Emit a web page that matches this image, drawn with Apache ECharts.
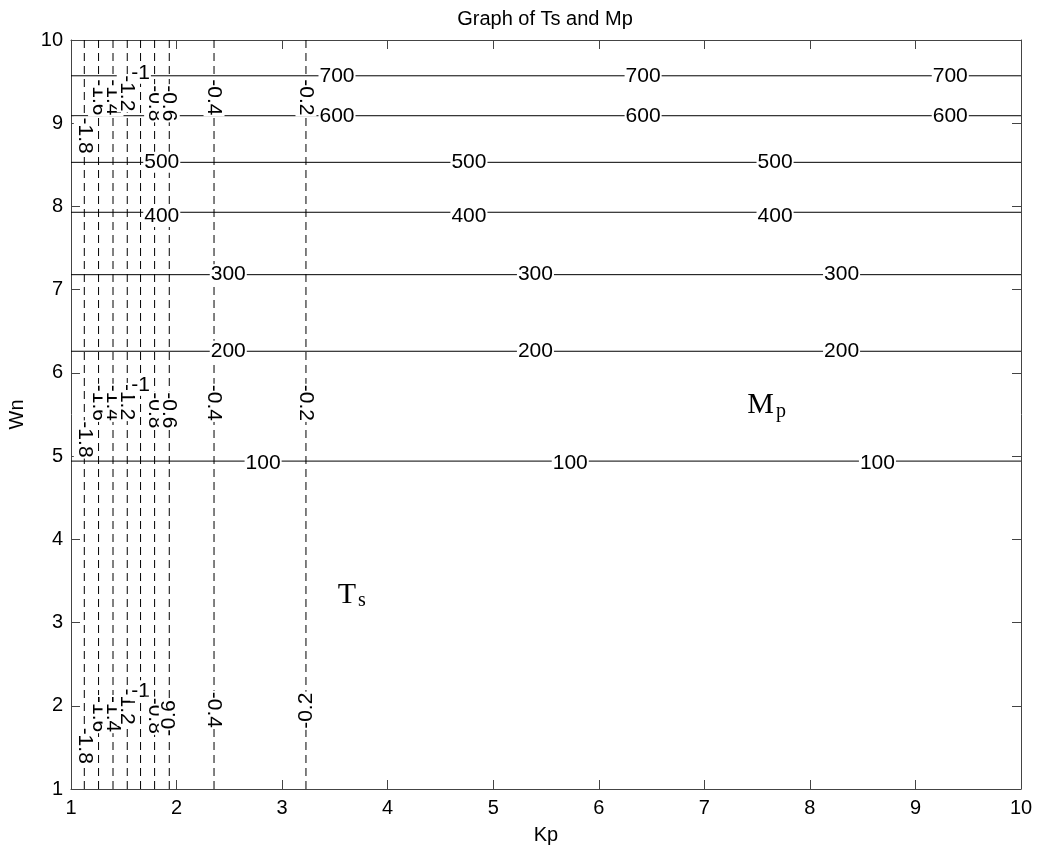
<!DOCTYPE html>
<html>
<head>
<meta charset="utf-8">
<script src="https://cdn.jsdelivr.net/npm/echarts@6/dist/echarts.min.js"></script>
<style>
html,body{margin:0;padding:0;background:#fff;}
#chart{width:1039px;height:852px;}
</style>
</head>
<body>
<div id="chart"></div>
<script>
// ---- data ----
const titleText = 'Graph of Ts and Mp';
const xName = 'Kp';
const yName = 'Wn';
const axisTicks = [1, 2, 3, 4, 5, 6, 7, 8, 9, 10];

// Ts contours (vertical dashed lines): level and Kp position
const tsLevels = ['-1.8', '-1.6', '-1.4', '-1.2', '-1', '-0.8', '-0.6', '-0.4', '-0.2'];
const tsKp = [1.126, 1.261, 1.398, 1.533, 1.659, 1.792, 1.931, 2.355, 3.226];
// Wn positions of Ts contour labels (three groups: top, middle, bottom)
const tsLabelWnTop = [8.85, 9.31, 9.31, 9.36, 9.60, 9.24, 9.24, 9.31, 9.31];
const tsLabelWnMid = [5.20, 5.64, 5.64, 5.65, 5.85, 5.55, 5.55, 5.64, 5.64];
const tsLabelWnBot = [1.52, 1.90, 1.90, 1.99, 2.18, 1.88, 1.85, 1.95, 1.94];

// Mp contours (horizontal solid lines): level and Wn position
const mpLevels = ['100', '200', '300', '400', '500', '600', '700'];
const mpWn = [4.94, 6.26, 7.18, 7.93, 8.53, 9.09, 9.57];
// Kp positions of Mp contour labels
const mpLabelKp = [
  [2.82, 5.73, 8.64],
  [2.49, 5.40, 8.30],
  [2.49, 5.40, 8.30],
  [1.86, 4.77, 7.67],
  [1.86, 4.77, 7.67],
  [3.52, 6.42, 9.33],
  [3.52, 6.42, 9.33]
];
// offsets of labels below their lines (Wn units) for 100 and 400 rows
const mpLabelWnShift = [-0.03, 0, 0, -0.05, 0, 0, 0];

// region annotations
const annMain = ['T', 'M'];
const annSub = ['s', 'p'];
const annKp = [3.66, 7.59];
const annWn = [3.33, 5.61];

// ---- build ----
const series = [];
tsLevels.forEach((lv, i) => {
  series.push({
    type: 'line', name: 'Ts ' + lv, xAxisIndex: 0, yAxisIndex: 0,
    data: [[tsKp[i], 1], [tsKp[i], 10]],
    symbol: 'none', silent: true,
    lineStyle: { color: '#000', width: 1, type: [8, 5] }
  });
});
mpLevels.forEach((lv, i) => {
  series.push({
    type: 'line', name: 'Mp ' + lv, xAxisIndex: 0, yAxisIndex: 0,
    data: [[1, mpWn[i]], [10, mpWn[i]]],
    symbol: 'none', silent: true,
    lineStyle: { color: '#000', width: 1, type: 'solid' }
  });
});

const labelData = [];
[tsLabelWnTop, tsLabelWnMid, tsLabelWnBot].forEach((grp, g) => {
  grp.forEach((wn, i) => {
    let rot = -90;
    if (tsLevels[i] === '-1') rot = 0;
    if (g === 2 && (tsLevels[i] === '-0.6' || tsLevels[i] === '-0.2')) rot = 90;
    labelData.push({ name: tsLevels[i], value: [tsKp[i], wn], label: { rotate: rot } });
  });
});
mpLevels.forEach((lv, i) => {
  mpLabelKp[i].forEach(kp => {
    labelData.push({ name: lv, value: [kp, mpWn[i] + mpLabelWnShift[i]], label: { rotate: 0 } });
  });
});

series.push({
  type: 'scatter', name: 'contour labels', xAxisIndex: 0, yAxisIndex: 0,
  symbolSize: 0, silent: true, z: 5,
  itemStyle: { opacity: 1 },
  data: labelData,
  label: {
    show: true, position: 'inside', formatter: '{b}',
    color: '#000', fontSize: 21, fontFamily: 'Liberation Sans, Arial, sans-serif',
    backgroundColor: '#fff', padding: [0, 1]
  }
});

series.push({
  type: 'scatter', name: 'annotations', xAxisIndex: 0, yAxisIndex: 0,
  symbolSize: 0, silent: true, z: 6,
  itemStyle: { opacity: 1 },
  data: annMain.map((m, i) => ({ name: m, value: [annKp[i], annWn[i]], sub: annSub[i] })),
  label: {
    show: true, position: 'inside',
    formatter: p => '{a|' + p.name + '}{b|' + p.data.sub + '}',
    rich: {
      a: { fontFamily: 'Liberation Serif, Times New Roman, serif', fontSize: 30, color: '#000', lineHeight: 30 },
      b: { fontFamily: 'Liberation Serif, Times New Roman, serif', fontSize: 20, color: '#000', padding: [12, 0, 0, 2] }
    }
  }
});

const axisFont = { color: '#000', fontSize: 20, fontFamily: 'Liberation Sans, Arial, sans-serif' };
const lineCol = '#444';
function mkAxis(pos, showLabels, name, extra) {
  return Object.assign({
    type: 'value', position: pos, min: axisTicks[0], max: axisTicks[axisTicks.length - 1], interval: 1,
    axisLine: { show: true, onZero: false, lineStyle: { color: lineCol, width: 1 } },
    axisTick: { show: true, inside: true, length: 9, lineStyle: { color: lineCol, width: 1 } },
    axisLabel: Object.assign({ show: showLabels }, axisFont),
    splitLine: { show: false },
    name: name,
    nameTextStyle: axisFont
  }, extra || {});
}

const option = {
  animation: false,
  backgroundColor: '#fff',
  title: {
    text: titleText, left: 540, top: 4, textAlign: 'center',
    textStyle: { color: '#000', fontSize: 20, fontWeight: 'normal', fontFamily: 'Liberation Sans, Arial, sans-serif' }
  },
  grid: { left: 71, right: 18, top: 40, bottom: 63, containLabel: false, outerBoundsMode: 'none' },
  xAxis: [
    mkAxis('bottom', true, xName, { nameLocation: 'middle', nameGap: 36, axisLabel: Object.assign({ show: true, margin: 9 }, axisFont) }),
    mkAxis('top', false, '', {})
  ],
  yAxis: [
    mkAxis('left', true, yName, { nameLocation: 'middle', nameGap: 44, nameRotate: 90, axisLabel: Object.assign({ show: true, margin: 8 }, axisFont) }),
    mkAxis('right', false, '', {})
  ],
  series: series
};

const chart = echarts.init(document.getElementById('chart'), null, { renderer: 'canvas' });
chart.setOption(option);
</script>
</body>
</html>
